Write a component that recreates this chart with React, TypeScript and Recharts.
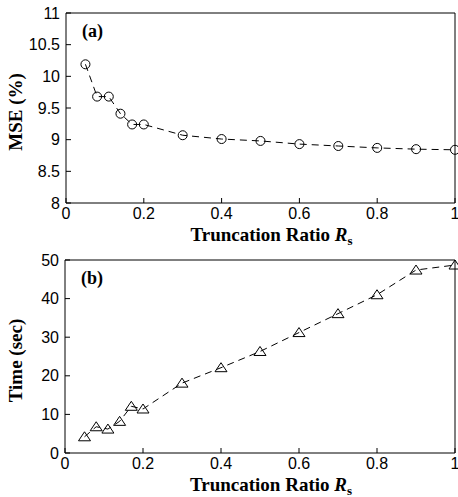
import { LineChart, Line, XAxis, YAxis } from "recharts";

// truncation ratio Rs (shared by both panels)
const ratios = [0.05, 0.08, 0.11, 0.14, 0.17, 0.2, 0.3, 0.4, 0.5, 0.6, 0.7, 0.8, 0.9, 1.0];
// (a) mean squared error, %
const mseValues = [10.19, 9.68, 9.68, 9.41, 9.24, 9.24, 9.07, 9.01, 8.98, 8.93, 8.9, 8.87, 8.85, 8.84];
// (b) running time, seconds
const timeValues = [4.2, 6.8, 6.2, 8.2, 12.1, 11.4, 18.1, 22.1, 26.3, 31.2, 36.1, 41, 47.4, 48.7];

const xTicks = [0, 0.2, 0.4, 0.6, 0.8, 1];
const mseTicks = [8, 8.5, 9, 9.5, 10, 10.5, 11];
const timeTicks = [0, 10, 20, 30, 40, 50];

const serif = "'Liberation Serif', 'Times New Roman', serif";
const sans = "'Liberation Sans', Arial, sans-serif";
const tickStyle = { fill: "#000", fontSize: 16, fontFamily: sans };

type Box = { x: number; y: number; width: number; height: number };

function XTitle({ viewBox }: { viewBox?: Box }) {
  if (!viewBox) return null;
  return (
    <text
      x={viewBox.x + viewBox.width / 2 + 11}
      y={viewBox.y + 38}
      textAnchor="middle"
      fontFamily={serif}
      fontWeight="bold"
      fontSize={19}
      fill="#000"
    >
      Truncation Ratio <tspan fontStyle="italic">R</tspan>
      <tspan fontSize={13} dy={4}>s</tspan>
    </text>
  );
}

function YTitle({ viewBox, text }: { viewBox?: Box; text: string }) {
  if (!viewBox) return null;
  const x = viewBox.x + 22;
  const y = viewBox.y + viewBox.height / 2 + 4;
  return (
    <text
      x={x}
      y={y}
      transform={`rotate(-90 ${x} ${y})`}
      textAnchor="middle"
      fontFamily={serif}
      fontWeight="bold"
      fontSize={19}
      fill="#000"
    >
      {text}
    </text>
  );
}

function PanelTag({ viewBox, text }: { viewBox?: Box; text: string }) {
  if (!viewBox) return null;
  return (
    <text
      x={viewBox.x + 16}
      y={viewBox.y + 25}
      fontFamily={serif}
      fontWeight="bold"
      fontSize={18}
      fill="#000"
    >
      {text}
    </text>
  );
}

const circleDot = (p: any) => (
  <circle key={`c-${p.index}`} cx={p.cx} cy={p.cy} r={4.5} fill="none" stroke="#000" strokeWidth={1} />
);

const triangleDot = (p: any) => (
  <path
    key={`t-${p.index}`}
    d={`M${p.cx},${p.cy - 5} L${p.cx + 6},${p.cy + 4} L${p.cx - 6},${p.cy + 4} Z`}
    fill="none"
    stroke="#000"
    strokeWidth={1}
  />
);

type PanelProps = {
  values: number[];
  yTicks: number[];
  yTitle: string;
  tag: string;
  dot: (p: any) => JSX.Element;
  height: number;
  top: number;
  left: number;
  xHeight: number;
};

function Panel({ values, yTicks, yTitle, tag, dot, height, top, left, xHeight }: PanelProps) {
  const data = ratios.map((r, i) => ({ r, v: values[i] }));
  const yDomain = [yTicks[0], yTicks[yTicks.length - 1]];
  return (
    <LineChart
      width={458}
      height={height}
      data={data}
      margin={{ top: top - 1, right: 2, left: 0, bottom: 0 }}
      style={{ display: "block" }}
    >
      <XAxis
        dataKey="r"
        type="number"
        domain={[0, 1]}
        ticks={xTicks}
        interval={0}
        height={xHeight}
        stroke="#000"
        tickSize={-5}
        tickMargin={10}
        tick={tickStyle}
        label={<XTitle />}
      />
      <XAxis
        xAxisId="top"
        orientation="top"
        dataKey="r"
        type="number"
        domain={[0, 1]}
        ticks={xTicks}
        interval={0}
        height={1}
        stroke="#000"
        tickSize={-5}
        tick={false}
        label={<PanelTag text={tag} />}
      />
      <YAxis
        type="number"
        domain={yDomain}
        ticks={yTicks}
        interval={0}
        width={left}
        stroke="#000"
        tickSize={-5}
        tickMargin={11}
        tick={tickStyle}
        label={<YTitle text={yTitle} />}
      />
      <YAxis
        yAxisId="right"
        orientation="right"
        type="number"
        domain={yDomain}
        ticks={yTicks}
        interval={0}
        width={1}
        stroke="#000"
        tickSize={-5}
        tick={false}
      />
      <Line
        dataKey="v"
        type="linear"
        stroke="#000"
        strokeWidth={1}
        strokeDasharray="7 5"
        dot={dot}
        activeDot={false}
        isAnimationActive={false}
      />
    </LineChart>
  );
}

export default function App() {
  return (
    <div style={{ position: "absolute", left: 0, top: 0, width: 458, height: 497, background: "#fff" }}>
      <Panel
        values={mseValues}
        yTicks={mseTicks}
        yTitle="MSE (%)"
        tag="(a)"
        dot={circleDot}
        height={250}
        top={13}
        left={66}
        xHeight={47}
      />
      <Panel
        values={timeValues}
        yTicks={timeTicks}
        yTitle="Time (sec)"
        tag="(b)"
        dot={triangleDot}
        height={247}
        top={10}
        left={65}
        xHeight={44}
      />
    </div>
  );
}
